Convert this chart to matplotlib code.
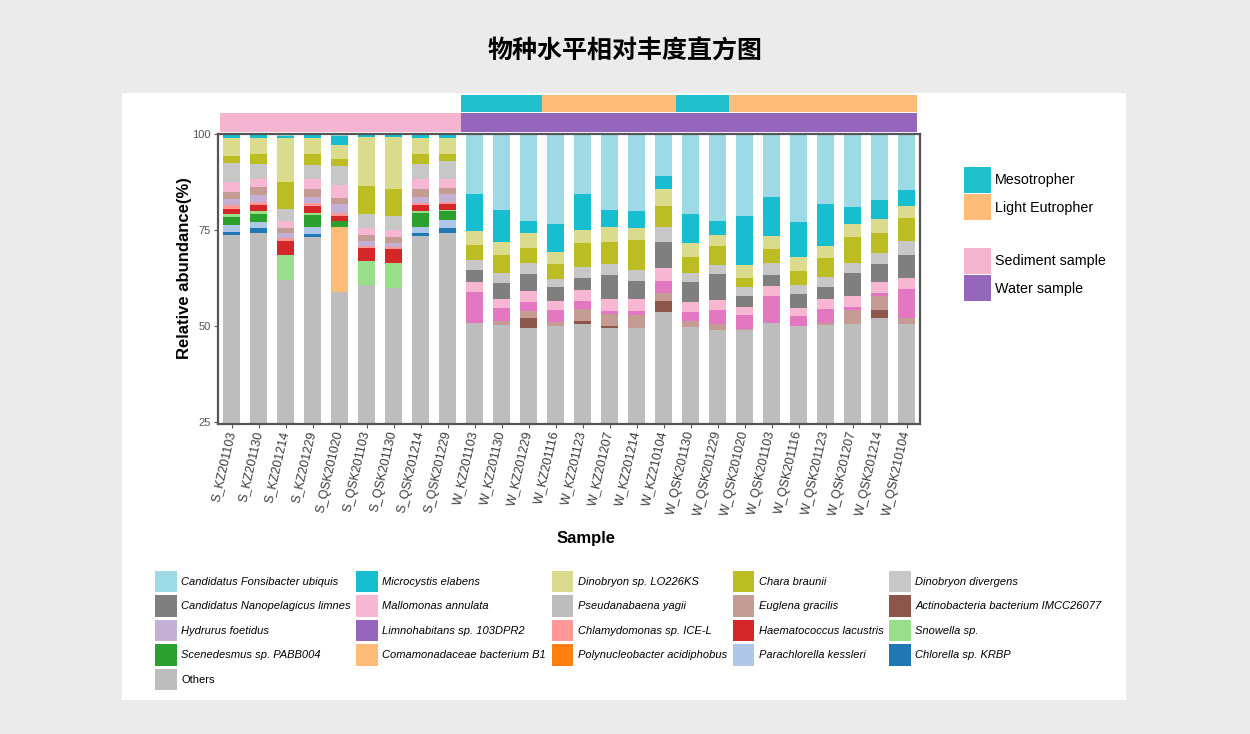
import numpy as np
import matplotlib
matplotlib.use('Agg')
import matplotlib.pyplot as plt
from matplotlib.patches import Patch, Rectangle

plt.rcParams['font.family'] = ['Liberation Sans', 'Noto Sans CJK SC']

samples = ['S_KZ201103', 'S_KZ201130', 'S_KZ201214', 'S_KZ201229', 'S_QSK201020',
           'S_QSK201103', 'S_QSK201130', 'S_QSK201214', 'S_QSK201229',
           'W_KZ201103', 'W_KZ201130', 'W_KZ201229', 'W_KZ201116', 'W_KZ201123',
           'W_KZ201207', 'W_KZ201214', 'W_KZ210104',
           'W_QSK201130', 'W_QSK201229', 'W_QSK201020', 'W_QSK201103', 'W_QSK201116',
           'W_QSK201123', 'W_QSK201207', 'W_QSK201214', 'W_QSK210104']
sample_type = ['Sediment sample'] * 9 + ['Water sample'] * 17
trophic = [None] * 9 + ['Mesotropher'] * 3 + ['Light Eutropher'] * 5 + \
          ['Mesotropher'] * 2 + ['Light Eutropher'] * 7

# relative abundance (%) per species, one value per sample
fonsibacter = [0.3, 0.3, 0.5, 0.3, 0.4, 0.3, 0.3, 0.3, 0.3,
               15.7, 19.8, 22.7, 23.4, 15.5, 19.8, 20.1, 10.9,
               20.7, 22.7, 21.4, 16.3, 23.0, 18.1, 18.9, 17.2, 14.6]
microcystis = [0.7, 0.7, 0.5, 0.7, 2.4, 0.6, 0.6, 0.7, 0.7,
               9.5, 8.4, 3.0, 7.2, 9.4, 4.5, 4.3, 3.5,
               7.6, 3.5, 12.8, 10.2, 9.1, 11.0, 4.6, 5.0, 4.2]
dinobryon_lo = [4.6, 4.1, 11.6, 4.2, 3.7, 12.6, 13.3, 4.2, 4.1,
                3.6, 3.3, 4.0, 3.2, 3.5, 3.7, 3.2, 4.3,
                3.6, 3.0, 3.3, 3.5, 3.6, 3.1, 3.2, 3.5, 3.0]
chara = [2.0, 2.6, 6.8, 2.8, 1.9, 7.2, 7.2, 2.7, 2.0,
         3.9, 4.8, 3.9, 4.0, 6.1, 5.8, 7.8, 5.4,
         4.3, 5.0, 2.3, 3.7, 3.6, 5.1, 6.8, 5.4, 6.0]
dinobryon_div = [4.8, 3.9, 3.2, 3.8, 4.8, 3.7, 3.5, 3.8, 4.5,
                 2.8, 2.6, 2.8, 2.1, 3.0, 2.9, 3.0, 3.9,
                 2.3, 2.2, 2.4, 2.9, 2.4, 2.6, 2.6, 2.8, 3.7]
nanopelagicus = [0, 0, 0, 0, 0, 0, 0, 0, 0,
                 3.0, 4.1, 4.5, 3.7, 3.1, 6.3, 4.6, 6.9,
                 5.3, 6.8, 2.8, 3.0, 3.6, 3.1, 6.1, 4.6, 6.1]
mallomonas = [2.6, 2.2, 1.8, 2.5, 3.5, 1.9, 1.9, 2.7, 2.4,
              2.6, 2.4, 2.9, 2.2, 2.8, 3.2, 3.2, 3.5,
              2.6, 2.5, 2.2, 2.6, 2.2, 2.5, 2.8, 3.0, 2.8]
pseudanabaena = [0, 0, 0, 0, 0, 0, 0, 0, 0,
                 8.2, 3.3, 2.4, 3.2, 2.2, 0.7, 1.0, 3.0,
                 2.2, 3.7, 3.5, 7.1, 2.6, 3.7, 0.9, 0.6, 7.6]
euglena = [1.8, 2.2, 1.5, 2.0, 1.5, 1.5, 1.5, 1.9, 1.7,
           0, 0.9, 1.7, 0.9, 3.2, 3.2, 3.3, 2.0,
           1.6, 1.7, 0.4, 0, 0, 0.6, 3.5, 3.6, 1.5]
actinobacteria = [0, 0, 0, 0, 0, 0, 0, 0, 0,
                  0, 0, 2.6, 0, 0.7, 0.4, 0, 3.0,
                  0, 0, 0, 0, 0, 0, 0, 2.3, 0]
hydrurus = [1.7, 1.7, 1.3, 1.7, 2.3, 1.3, 1.1, 1.7, 1.9] + [0] * 17
limnohabitans = [0] * 26
chlamydomonas = [1.0, 0.9, 0.7, 0.7, 0.9, 0.5, 0.6, 0.6, 0.7] + [0] * 17
haematococcus = [1.3, 1.5, 3.6, 1.9, 1.3, 3.4, 3.7, 1.4, 1.5] + [0] * 17
snowella = [0.7, 0.7, 6.5, 0.6, 0, 6.3, 6.3, 0.6, 0.3] + [0] * 17
scenedesmus = [2.2, 2.0, 0, 3.1, 1.5, 0, 0, 3.6, 2.2] + [0] * 17
comamonadaceae = [0, 0, 0, 0, 16.9, 0, 0, 0, 0] + [0] * 17
polynucleobacter = [0] * 26
parachlorella = [1.7, 1.7, 0, 1.7, 0, 0, 0, 1.7, 2.2] + [0] * 17
chlorella = [0.9, 1.3, 0, 0.8, 0, 0, 0, 0.7, 1.3] + [0] * 17
others = [73.7, 74.2, 62.0, 73.2, 58.9, 60.7, 60.0, 73.4, 74.2,
          50.7, 50.4, 49.5, 50.1, 50.5, 49.5, 49.5, 53.6,
          49.8, 48.9, 48.9, 50.7, 49.9, 50.2, 50.6, 52.0, 50.5]

# legend order = top of stack first
species = [
    ('Candidatus Fonsibacter ubiquis', fonsibacter, '#9edae5'),
    ('Microcystis elabens', microcystis, '#17becf'),
    ('Dinobryon sp. LO226KS', dinobryon_lo, '#dbdb8d'),
    ('Chara braunii', chara, '#bcbd22'),
    ('Dinobryon divergens', dinobryon_div, '#c7c7c7'),
    ('Candidatus Nanopelagicus limnes', nanopelagicus, '#7f7f7f'),
    ('Mallomonas annulata', mallomonas, '#f7b6d2'),
    ('Pseudanabaena yagii', pseudanabaena, '#e377c2'),
    ('Euglena gracilis', euglena, '#c49c94'),
    ('Actinobacteria bacterium IMCC26077', actinobacteria, '#8c564b'),
    ('Hydrurus foetidus', hydrurus, '#c5b0d5'),
    ('Limnohabitans sp. 103DPR2', limnohabitans, '#9467bd'),
    ('Chlamydomonas sp. ICE-L', chlamydomonas, '#ff9896'),
    ('Haematococcus lacustris', haematococcus, '#d62728'),
    ('Snowella sp.', snowella, '#98df8a'),
    ('Scenedesmus sp. PABB004', scenedesmus, '#2ca02c'),
    ('Comamonadaceae bacterium B1', comamonadaceae, '#ffbb78'),
    ('Polynucleobacter acidiphobus', polynucleobacter, '#ff7f0e'),
    ('Parachlorella kessleri', parachlorella, '#aec7e8'),
    ('Chlorella sp. KRBP', chlorella, '#1f77b4'),
    ('Others', others, '#bdbdbd'),
]
# the reference legend shows a grey swatch for Pseudanabaena yagii
legend_color = {'Pseudanabaena yagii': '#bdbdbd'}

W, H = 1250, 734
fig = plt.figure(figsize=(W / 100, H / 100), dpi=100)
fig.patch.set_facecolor('#ebebeb')
fig.add_artist(Rectangle((122 / W, 1 - 700 / H), (1126 - 122) / W, (700 - 93) / H,
                         transform=fig.transFigure, facecolor='white',
                         edgecolor='none', zorder=0))

L, R = 218 / W, 920 / W
ax = fig.add_axes([L, 1 - 424 / H, R - L, (424 - 134) / H])
x = np.arange(len(samples))
bottom = np.zeros(len(samples))
for name, vals, col in reversed(species):
    v = np.array(vals, dtype=float)
    ax.bar(x, v, 0.6, bottom=bottom, color=col, linewidth=0)
    bottom += v

ax.set_xlim(-0.5, len(samples) - 0.5)
ax.set_ylim(24.5, 100)
ax.set_yticks([25, 50, 75, 100])
for s in ax.spines.values():
    s.set_color('#555555')
    s.set_linewidth(1.6)
ax.tick_params(axis='y', labelsize=8, colors='#555555', length=3, pad=2)
ax.tick_params(axis='x', length=3, colors='#555555', pad=2)
ax.set_xticks(x)
ax.set_xticklabels(samples, rotation=77, ha='right', va='center',
                   rotation_mode='anchor', fontsize=9, color='#3a3a3a')

fig.text(184 / W, 1 - 268 / H, 'Relative abundance(%)', rotation=90,
         ha='center', va='center', fontsize=12, fontweight='bold')
fig.text(586 / W, 1 - 538 / H, 'Sample', ha='center', va='center',
         fontsize=12, fontweight='bold')
fig.text(0.5, 1 - 52 / H, '物种水平相对丰度直方图', ha='center', va='center',
         fontsize=18, fontweight='bold', family=['Noto Sans CJK SC'])

# annotation strips
type_colors = {'Sediment sample': '#f5b5d1', 'Water sample': '#9467bd'}
troph_colors = {'Mesotropher': '#1fc0cc', 'Light Eutropher': '#ffbb78'}

SL, SR = 220 / W, 917 / W
ax_t = fig.add_axes([SL, 1 - 112 / H, SR - SL, 17 / H])
for i, t in enumerate(trophic):
    if t is not None:
        ax_t.bar(i, 1, 1.0, color=troph_colors[t], linewidth=0)
ax_t.set_xlim(ax.get_xlim())
ax_t.set_ylim(0, 1)
ax_t.axis('off')

ax_s = fig.add_axes([SL, 1 - 132 / H, SR - SL, 19 / H])
for i, t in enumerate(sample_type):
    ax_s.bar(i, 1, 1.0, color=type_colors[t], linewidth=0)
ax_s.set_xlim(ax.get_xlim())
ax_s.set_ylim(0, 1)
ax_s.axis('off')

# right-hand legends
h1 = [Patch(facecolor=c, edgecolor='none', label=k) for k, c in troph_colors.items()]
h2 = [Patch(facecolor=c, edgecolor='none', label=k) for k, c in type_colors.items()]
for hs, top in [(h1, 167), (h2, 248)]:
    fig.legend(handles=hs, loc='upper left', bbox_to_anchor=(964 / W, 1 - top / H),
               frameon=False, fontsize=10.3, handlelength=1.9, handleheight=2.4,
               labelspacing=0.1, handletextpad=0.25, borderpad=0, borderaxespad=0)

# bottom legend, filled row by row like the reference
ncol = 5
n = len(species)
order = [i for c in range(ncol) for i in range(c, n, ncol)]
handles = [Patch(facecolor=legend_color.get(species[i][0], species[i][2]),
                 edgecolor='none', label=species[i][0]) for i in order]
leg = fig.legend(handles=handles, loc='upper left', ncol=ncol,
                 bbox_to_anchor=(155 / W, 1 - 571 / H), frameon=False,
                 prop={'size': 8, 'style': 'italic'}, handlelength=1.95,
                 handleheight=2.55, labelspacing=0.3, columnspacing=0.5,
                 handletextpad=0.4, borderpad=0, borderaxespad=0)
for t in leg.get_texts():
    if t.get_text() == 'Others':
        t.set_style('normal')

fig.savefig('out.png', dpi=100, facecolor=fig.get_facecolor())
